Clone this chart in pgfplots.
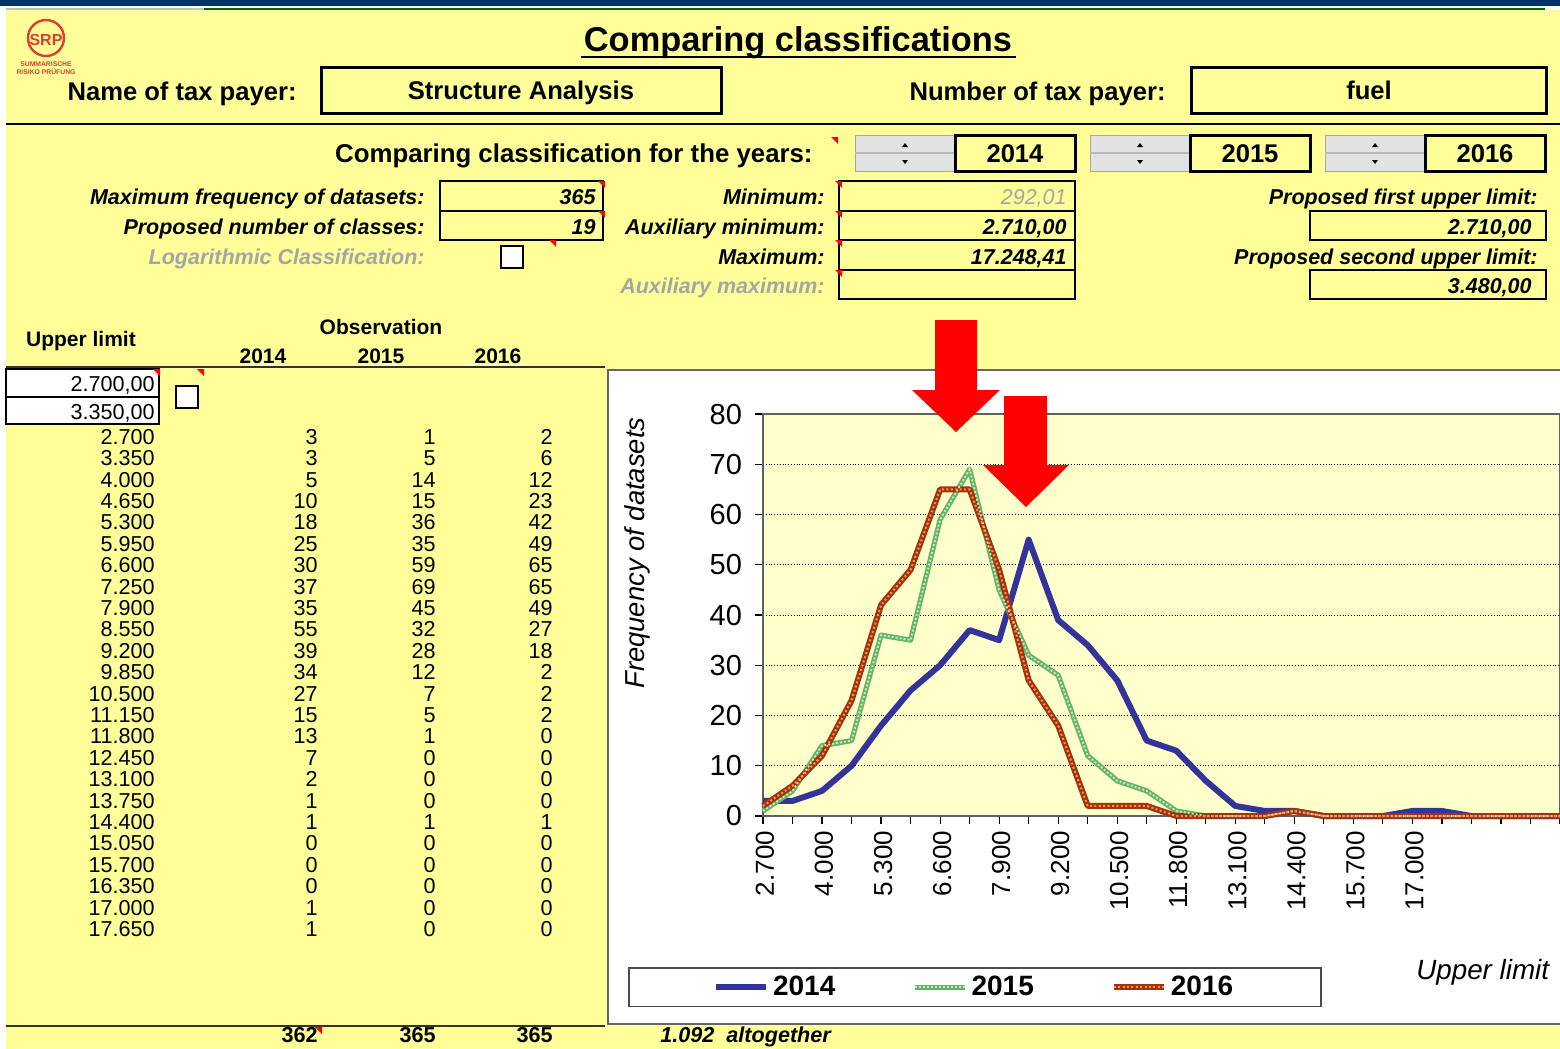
\documentclass[border=0pt]{standalone}
\usepackage{fontspec}
\setmainfont{Liberation Sans}
\usepackage{pgfplots}
\usepackage{pgfplotstable}
\pgfplotsset{compat=1.18}
\usetikzlibrary{calc}

\definecolor{bgYellow}{RGB}{255,255,153}
\definecolor{plotYellow}{RGB}{255,255,204}
\definecolor{topNavy}{RGB}{0,51,102}
\definecolor{sNavy}{RGB}{51,51,153}
\definecolor{sGreen}{RGB}{100,180,100}
\definecolor{sGreenLight}{RGB}{200,235,200}
\definecolor{sBrown}{RGB}{165,50,10}
\definecolor{sOrange}{RGB}{235,150,100}
\definecolor{logoRed}{RGB}{222,62,52}
\definecolor{txtGray}{RGB}{165,165,165}
\definecolor{spinGray}{RGB}{226,226,226}

\newcommand\fs[1]{\fontsize{#1}{#1}\selectfont}

% frequencies per class (index 0 = 2.700, step 650)
\pgfplotstableread{
idx a  b  c
0   3  1  2
1   3  5  6
2   5  14 12
3   10 15 23
4   18 36 42
5   25 35 49
6   30 59 65
7   37 69 65
8   35 45 49
9   55 32 27
10  39 28 18
11  34 12 2
12  27 7  2
13  15 5  2
14  13 1  0
15  7  0  0
16  2  0  0
17  1  0  0
18  1  1  1
19  0  0  0
20  0  0  0
21  0  0  0
22  1  0  0
23  1  0  0
24  0  0  0
25  0  0  0
26  0  0  0
27  0  0  0
}\freqdata

\tikzset{
  lab/.style={inner sep=0pt, yshift=-1.5pt, font=\bfseries\itshape\fs{10.75}},
  big/.style={inner sep=0pt, yshift=-1.5pt, anchor=mid, font=\bfseries\fs{12.8}},
  num/.style={inner sep=0pt, yshift=-1.5pt, font=\fs{10.8}},
  cell/.style={draw=black, line width=0.8pt},
}
\newcommand\cmt[2]{\fill[red] (#1-7,#2) -- (#1,#2) -- (#1,#2+7) -- cycle;}
\newcommand\spinner[2]{%
  \fill[spinGray] (#1,#2) rectangle (#1+100,#2+36);
  \draw[gray!70, line width=0.5pt] (#1,#2) rectangle (#1+100,#2+36);
  \draw[gray!55, line width=1pt] (#1,#2+18) -- (#1+100,#2+18);
  \fill[black] (#1+47,#2+12) -- (#1+53,#2+12) -- (#1+50,#2+8) -- cycle;
  \fill[black] (#1+47,#2+25) -- (#1+53,#2+25) -- (#1+50,#2+29) -- cycle;}

\begin{document}
\begin{tikzpicture}[x=0.5pt,y=-0.5pt]
\useasboundingbox (0,0) rectangle (1560,1049);
\fill[white] (0,0) rectangle (1560,1049);
\fill[bgYellow] (6,10) rectangle (1560,1049);
\fill[topNavy] (0,0) rectangle (1560,6);
\draw[gray!50, line width=1pt] (6,9) -- (204,9);
\draw[green!40!black, line width=1pt] (204,9) -- (1545,9);

% logo
\draw[logoRed, line width=1.2pt] (46,38) circle (18);
\node[inner sep=0pt, text=logoRed, font=\bfseries\fs{8}] at (46,40) {SRP};
\node[inner sep=0pt, text=logoRed, font=\bfseries\fs{3.4}] at (46,64) {SUMMARISCHE};
\node[inner sep=0pt, text=logoRed, font=\bfseries\fs{3.4}] at (46,72) {RISIKO PRÜFUNG};

% title
\node[inner sep=0pt, yshift=-1.5pt, font=\bfseries\fs{17.2}] at (798,40) {Comparing classifications};
\draw[black, line width=1pt] (581,57) -- (1016,57);

\node[big, anchor=mid east] at (297,92) {Name of tax payer:};
\draw[black, line width=1.5pt] (321,67) rectangle (721,113);
\node[big] at (521,91) {Structure Analysis};
\node[big, anchor=mid east] at (1166,92) {Number of tax payer:};
\draw[black, line width=1.5pt] (1191,67) rectangle (1546,113);
\node[big] at (1369,91) {fuel};
\draw[black, line width=1pt] (6,124) -- (1560,124);

% years
\node[inner sep=0pt, yshift=-1.5pt, font=\bfseries\fs{12.9}, anchor=mid east] at (813,154) {Comparing classification for the years:};
\cmt{838}{137}
\spinner{855}{135}
\draw[black, line width=1.5pt] (955,135) rectangle (1075,171);
\node[big] at (1015,154) {2014};
\spinner{1090}{135}
\draw[black, line width=1.5pt] (1190,135) rectangle (1310,171);
\node[big] at (1250,154) {2015};
\spinner{1325}{135}
\draw[black, line width=1.5pt] (1425,135) rectangle (1545,171);
\node[big] at (1485,154) {2016};

% parameters left
\node[lab, anchor=mid east] at (425,196) {Maximum frequency of datasets:};
\node[lab, anchor=mid east] at (425,226) {Proposed number of classes:};
\node[lab, anchor=mid east, text=txtGray] at (425,256) {Logarithmic Classification:};
\draw[cell] (440,181) rectangle (603,211);
\draw[cell] (440,211) rectangle (603,240);
\node[lab, anchor=mid east] at (596,196) {365};
\node[lab, anchor=mid east] at (596,226) {19};
\cmt{605}{181}\cmt{605}{211}\cmt{556}{240}
\filldraw[fill=white, draw=black, line width=0.6pt] (501,246) rectangle (523,268);

% parameters middle
\node[lab, anchor=mid east] at (825,196) {Minimum:};
\node[lab, anchor=mid east] at (825,226) {Auxiliary minimum:};
\node[lab, anchor=mid east] at (825,256) {Maximum:};
\node[lab, anchor=mid east, text=txtGray] at (825,285) {Auxiliary maximum:};
\draw[cell] (839,181) rectangle (1075,211);
\draw[cell] (839,211) rectangle (1075,240);
\draw[cell] (839,240) rectangle (1075,270);
\draw[cell] (839,270) rectangle (1075,299);
\node[inner sep=0pt, yshift=-1.5pt, font=\itshape\fs{10.75}, text=txtGray, anchor=mid east] at (1067,196) {292,01};
\node[lab, anchor=mid east] at (1067,226) {2.710,00};
\node[lab, anchor=mid east] at (1067,256) {17.248,41};
\cmt{842}{181}\cmt{842}{211}\cmt{842}{240}\cmt{842}{270}

% parameters right
\node[lab, anchor=mid east] at (1538,196) {Proposed first upper limit:};
\draw[cell] (1310,211) rectangle (1546,240);
\node[lab, anchor=mid east] at (1532,226) {2.710,00};
\node[lab, anchor=mid east] at (1538,256) {Proposed second upper limit:};
\draw[cell] (1310,270) rectangle (1546,299);
\node[lab, anchor=mid east] at (1532,285) {3.480,00};

% table header
\node[inner sep=0pt, yshift=-1.5pt, font=\bfseries\fs{10.5}] at (81,338) {Upper limit};
\node[inner sep=0pt, yshift=-1.5pt, font=\bfseries\fs{10.5}] at (381,324) {Observation};
\node[inner sep=0pt, yshift=-1.5pt, font=\bfseries\fs{10.5}] at (263,353) {2014};
\node[inner sep=0pt, yshift=-1.5pt, font=\bfseries\fs{10.5}] at (381,353) {2015};
\node[inner sep=0pt, yshift=-1.5pt, font=\bfseries\fs{10.5}] at (498,353) {2016};
\draw[black!80, line width=0.8pt] (6,367) -- (605,367);
\filldraw[fill=white, draw=black, line width=0.8pt] (6,369) rectangle (159,397);
\filldraw[fill=white, draw=black, line width=0.8pt] (6,397) rectangle (159,424);
\node[num, anchor=mid east] at (155,383) {2.700,00};
\node[num, anchor=mid east] at (155,411) {3.350,00};
\cmt{160}{369}\cmt{204}{369}
\filldraw[fill=white, draw=black, line width=0.6pt] (176,386) rectangle (198,408);

\foreach \u/\a/\b/\c [count=\i from 0] in {
  2.700/3/1/2, 3.350/3/5/6, 4.000/5/14/12, 4.650/10/15/23, 5.300/18/36/42,
  5.950/25/35/49, 6.600/30/59/65, 7.250/37/69/65, 7.900/35/45/49, 8.550/55/32/27,
  9.200/39/28/18, 9.850/34/12/2, 10.500/27/7/2, 11.150/15/5/2, 11.800/13/1/0,
  12.450/7/0/0, 13.100/2/0/0, 13.750/1/0/0, 14.400/1/1/1, 15.050/0/0/0,
  15.700/0/0/0, 16.350/0/0/0, 17.000/1/0/0, 17.650/1/0/0}{
  \node[num, anchor=mid east] at (155,{436+21.4*\i}) {\u};
  \node[num, anchor=mid east] at (318,{436+21.4*\i}) {\a};
  \node[num, anchor=mid east] at (436,{436+21.4*\i}) {\b};
  \node[num, anchor=mid east] at (553,{436+21.4*\i}) {\c};
}
\draw[black!80, line width=0.8pt] (6,1026) -- (605,1026);
\node[inner sep=0pt, font=\bfseries\fs{10.8}, anchor=mid east] at (318,1037) {362};
\cmt{322}{1027}
\node[inner sep=0pt, font=\bfseries\fs{10.8}, anchor=mid east] at (436,1037) {365};
\node[inner sep=0pt, font=\bfseries\fs{10.8}, anchor=mid east] at (553,1037) {365};
\node[inner sep=0pt, font=\bfseries\itshape\fs{10.8}, anchor=mid west] at (660,1037) {1.092\ \ altogether};

% chart area
\filldraw[fill=white, draw=gray!80!black, line width=0.8pt] (608,370) rectangle (1563,1024);

\begin{axis}[
  at={(381.5pt,-408pt)}, anchor=south west,
  scale only axis, width=398.5pt, height=201pt,
  xmin=0, xmax=27, ymin=0, ymax=80,
  clip=false,
  axis background/.style={fill=plotYellow},
  axis line style={gray!75!black, line width=0.8pt},
  xtick={0,...,27},
  xticklabels={2.700,,4.000,,5.300,,6.600,,7.900,,9.200,,10.500,,11.800,,13.100,,14.400,,15.700,,17.000},
  xtick pos=bottom, ytick pos=left,
  xtick align=outside, ytick align=outside,
  major tick length=4pt,
  tick style={black, line width=0.6pt},
  ytick={0,10,...,80},
  x tick label style={rotate=90, anchor=east, font=\fs{13}, yshift=-1pt},
  y tick label style={font=\fs{14.5}, xshift=-3pt},
  /pgf/number format/assume math mode=true,
  ymajorgrids, grid style={black, densely dotted, line width=0.5pt},
  ylabel={Frequency of datasets},
  ylabel style={at={(axis description cs:-0.157,0.654)}, anchor=center, font=\itshape\fs{13.7}},
  xlabel={Upper limit},
  xlabel style={at={(axis description cs:0.903,-0.39)}, anchor=center, font=\itshape\fs{13.9}},
  legend columns=3,
  legend style={at={(-0.169,-0.376)}, anchor=north west, fill=white,
    draw=gray!60!black, line width=0.8pt, font=\bfseries\fs{14},
    inner xsep=42pt, inner ysep=2pt,
    /tikz/every even column/.append style={column sep=36.5pt}},
  legend image code/.code={\draw[#1] (0pt,0pt) -- (25pt,0pt);},
]
\addplot[sNavy, line width=3pt, line join=round] table[x=idx, y=a] {\freqdata};
\addlegendentry{2014}
\addplot[sGreen, line width=2.6pt, line join=round,
  legend image code/.code={\draw[sGreen, line width=2.6pt] (0pt,0pt) -- (25pt,0pt);
    \draw[sGreenLight, line width=0.9pt, dash pattern=on 1pt off 1pt] (0pt,0pt) -- (25pt,0pt);}]
  table[x=idx, y=b] {\freqdata};
\addlegendentry{2015}
\addplot[sBrown, line width=3pt, line join=round,
  legend image code/.code={\draw[sBrown, line width=3pt] (0pt,0pt) -- (25pt,0pt);
    \draw[sOrange, line width=1pt, dash pattern=on 1pt off 1.2pt] (0pt,0pt) -- (25pt,0pt);}]
  table[x=idx, y=c] {\freqdata};
\addlegendentry{2016}
\addplot[sGreenLight, line width=0.9pt, dash pattern=on 1pt off 1pt, forget plot] table[x=idx, y=b] {\freqdata};
\addplot[sOrange, line width=1pt, dash pattern=on 1pt off 1.2pt, forget plot] table[x=idx, y=c] {\freqdata};
\end{axis}

% red arrows
\fill[red] (935,320) -- (977,320) -- (977,390) -- (1000,390) -- (956,432) -- (912,390) -- (935,390) -- cycle;
\fill[red] (1004,396) -- (1047,396) -- (1047,465) -- (1069,465) -- (1026,507) -- (983,465) -- (1004,465) -- cycle;
\end{tikzpicture}
\end{document}
